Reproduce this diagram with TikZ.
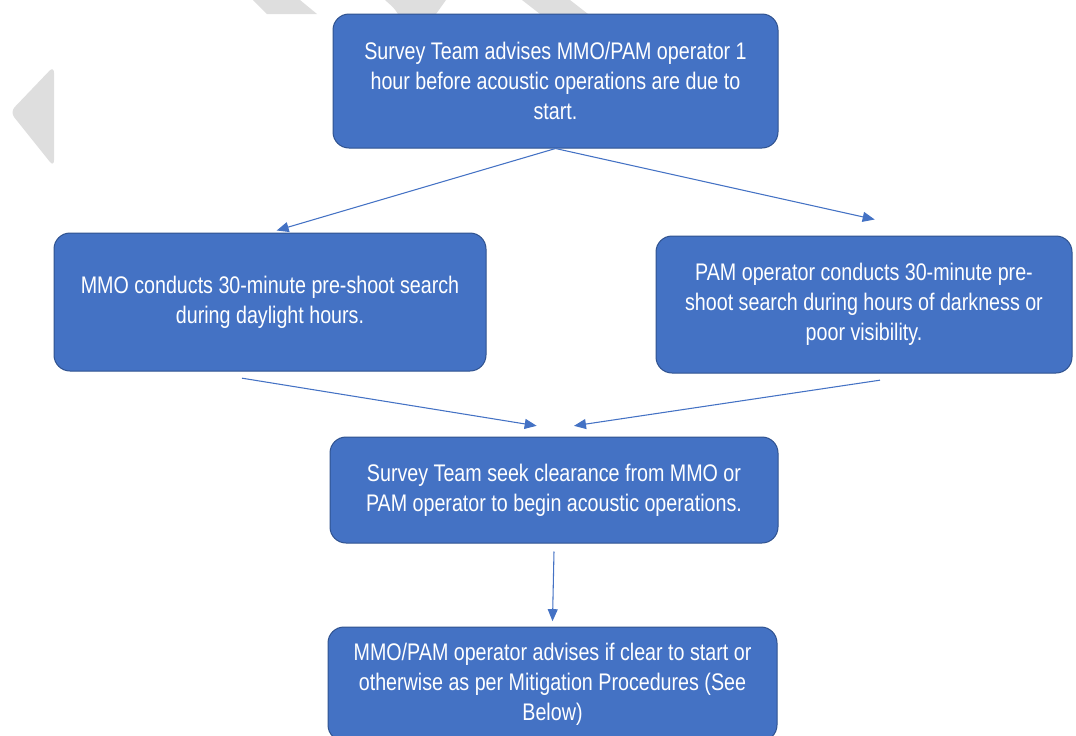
\documentclass[tikz,border=0pt]{standalone}
\usepackage{fontspec}
\setmainfont{Liberation Sans}[FakeStretch=0.82]
\usetikzlibrary{arrows.meta}
\definecolor{boxblue}{HTML}{4472C4}
\definecolor{boxedge}{HTML}{2F528F}
\definecolor{wmgray}{HTML}{DEDEDE}

\begin{document}
\begin{tikzpicture}[x=0.75pt,y=-0.75pt,
    stepbox/.style={draw=boxedge,line width=0.75pt,fill=boxblue,rounded corners=12pt,
      text=white,align=center,inner sep=0pt,font=\fontsize{18}{22.5}\selectfont},
    flow/.style={draw=boxblue,line width=0.8pt,-{Triangle[length=9pt,width=7.5pt]}}]
     \useasboundingbox (0,0) rectangle (1076,736);
     \clip (0,0) rectangle (1076,736);
     % watermark
     \fill[wmgray,rounded corners=5pt] (54,66)--(10,112)--(54,167)--cycle;
     \fill[wmgray] (253,0)--(300,0)--(317,14)--(267,14)--cycle;
     \fill[wmgray] (385,0)--(446,0)--(436,14)--(398,14)..controls (394,8)..(385,0);
     \fill[wmgray] (522,0)--(570,0)--(588,14)--(540,14)--cycle;

     \node[stepbox,minimum width=333.75pt,minimum height=100.5pt] (advise) at (555.5,81)
       {Survey Team advises MMO/PAM operator 1\\hour before acoustic operations are due to\\start.};
     \node[stepbox,minimum width=324pt,minimum height=103.5pt] (mmo) at (270,302)
       {MMO conducts 30-minute pre-shoot search\\during daylight hours.};
     \node[stepbox,minimum width=312pt,minimum height=102.75pt] (pam) at (864,304.5)
       {PAM operator conducts 30-minute pre-\\shoot search during hours of darkness or\\poor visibility.};
     \node[stepbox,minimum width=336pt,minimum height=79.5pt] (clear) at (554,490)
       {Survey Team seek clearance from MMO or\\PAM operator to begin acoustic operations.};
     \node[stepbox,minimum width=336.75pt,minimum height=85.5pt] (start) at (552.5,684)
       {MMO/PAM operator advises if clear to start or\\otherwise as per Mitigation Procedures (See\\Below)};

     \draw[flow] (advise.south)--([xshift=5pt,yshift=1.5pt]mmo.north);
     \draw[flow] (advise.south)--([xshift=8pt,yshift=12pt]pam.north);
     \draw[flow] ([xshift=-21pt,yshift=-5pt]mmo.south)--([xshift=-13pt,yshift=8pt]clear.north);
     \draw[flow] ([xshift=12pt,yshift=-5pt]pam.south)--([xshift=15pt,yshift=8pt]clear.north);
     \draw[flow] ([yshift=-6pt]clear.south)--([yshift=4pt]start.north);
    \end{tikzpicture}
\end{document}
